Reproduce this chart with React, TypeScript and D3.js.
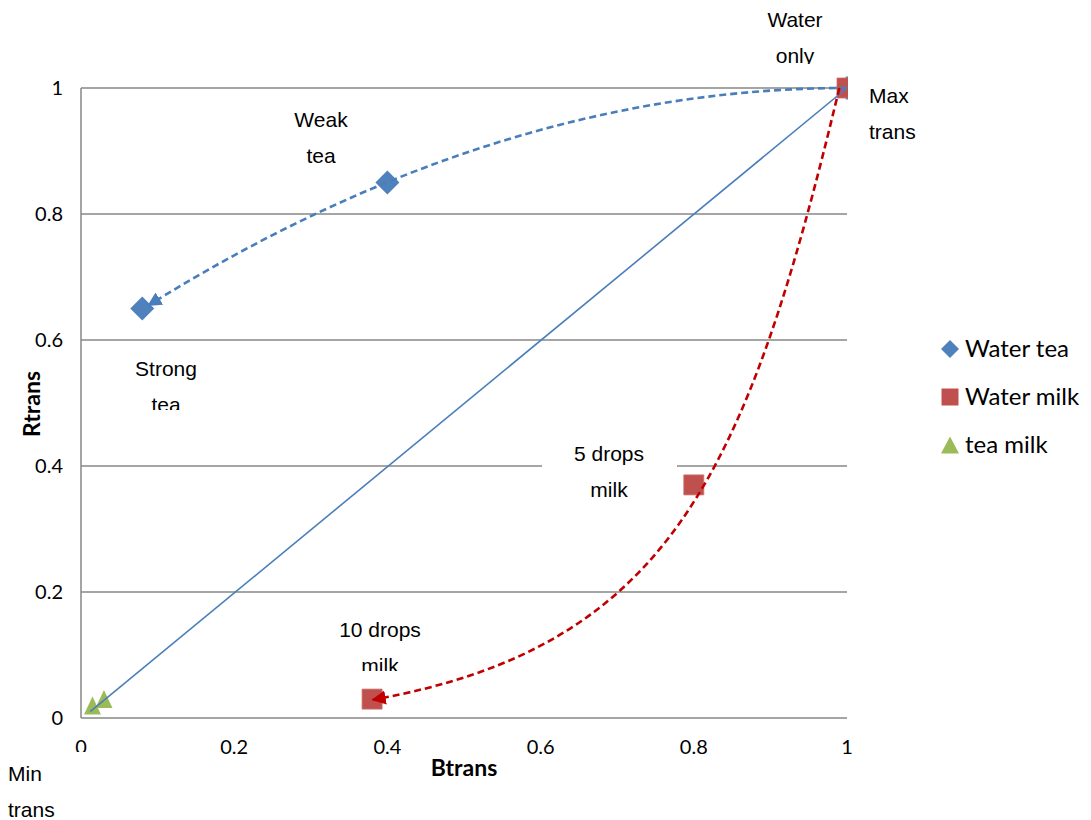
import React from "react";
import * as d3 from "d3";

// Measured transmission values (blue channel vs red channel)
const waterTeaB = [0.08, 0.4, 1];
const waterTeaR = [0.65, 0.85, 1];
const waterMilkB = [1, 0.8, 0.38];
const waterMilkR = [1, 0.37, 0.03];
const teaMilkB = [0.015, 0.03];
const teaMilkR = [0.02, 0.03];

const xTicks = [0, 0.2, 0.4, 0.6, 0.8, 1];
const yTicks = [0, 0.2, 0.4, 0.6, 0.8, 1];
const xTickLabels = ["0", "0.2", "0.4", "0.6", "0.8", "1"];
const yTickLabels = ["0", "0.2", "0.4", "0.6", "0.8", "1"];

// Guide line from max to min transmission
const diagonal: [number, number][] = [[1, 1], [0.012, 0.01]];
// Tea dilution path (quadratic: start, control, end)
const teaPath: [number, number][] = [[1, 1], [0.545, 1], [0.088, 0.655]];
// Milk dilution path (cubic: start, control 1, control 2, end)
const milkPath: [number, number][] = [[0.99, 1], [0.869, 0.385], [0.767, 0.113], [0.381, 0.029]];

const legendNames = ["Water tea", "Water milk", "tea milk"];

const BLUE = "#4f81bd";
const RED = "#c0504d";
const GREEN = "#9bbb59";

const W = 1091, H = 820;
const x = d3.scaleLinear().domain([0, 1]).range([81, 847]);
const y = d3.scaleLinear().domain([0, 1]).range([718, 88]);

const diamond = (cx: number, cy: number, r: number) =>
  `M${cx},${cy - r}L${cx + r},${cy}L${cx},${cy + r}L${cx - r},${cy}Z`;
const square = (cx: number, cy: number, s: number) =>
  `M${cx - s / 2},${cy - s / 2}h${s}v${s}h${-s}Z`;
const triangle = (cx: number, cy: number, w: number, h: number) =>
  `M${cx},${cy - h / 2}L${cx + w / 2},${cy + h / 2}L${cx - w / 2},${cy + h / 2}Z`;

type Note = { lines: string[]; box: [number, number, number, number]; cx?: number; left?: number; base: number };
const notes: Note[] = [
  { lines: ["Weak", "tea"], box: [280, 100, 85, 76], cx: 321, base: 127 },
  { lines: ["Water", "only"], box: [755, 0, 80, 64], cx: 795, base: 27 },
  { lines: ["Max", "trans"], box: [848, 74, 80, 76], left: 869, base: 103 },
  { lines: ["Strong", "tea"], box: [125, 345, 85, 65], cx: 166, base: 376 },
  { lines: ["5 drops", "milk"], box: [542, 432, 135, 76], cx: 609, base: 461 },
  { lines: ["10 drops", "milk"], box: [330, 608, 100, 63], cx: 380, base: 637 },
  { lines: ["Min", "trans"], box: [0, 752, 95, 68], left: 8, base: 781 },
];

export default function App() {
  const lineGen = d3.line<[number, number]>().x((d) => x(d[0])).y((d) => y(d[1]));

  const tp = d3.path();
  tp.moveTo(x(teaPath[0][0]), y(teaPath[0][1]));
  tp.quadraticCurveTo(x(teaPath[1][0]), y(teaPath[1][1]), x(teaPath[2][0]), y(teaPath[2][1]));

  const mp = d3.path();
  mp.moveTo(x(milkPath[0][0]), y(milkPath[0][1]));
  mp.bezierCurveTo(
    x(milkPath[1][0]), y(milkPath[1][1]),
    x(milkPath[2][0]), y(milkPath[2][1]),
    x(milkPath[3][0]), y(milkPath[3][1])
  );

  const tickFont = "Lato, 'Open Sans', sans-serif";
  const noteFont = "'Liberation Sans', Arial, sans-serif";

  return (
    <svg
      width={W}
      height={H}
      style={{ position: "absolute", left: 0, top: 0, background: "#fff" }}
    >
      <defs>
        <marker id="arrBlue" viewBox="0 0 10 10" refX="9" refY="5" markerWidth="5.5" markerHeight="5.5" orient="auto" markerUnits="strokeWidth">
          <path d="M0,0L10,5L0,10Z" fill="#4a7ebb" />
        </marker>
        <marker id="arrRed" viewBox="0 0 10 10" refX="9" refY="5" markerWidth="5.5" markerHeight="5.5" orient="auto" markerUnits="strokeWidth">
          <path d="M0,0L10,5L0,10Z" fill="#c00000" />
        </marker>
        {notes.map((n, i) => (
          <clipPath id={`nc${i}`} key={i}>
            <rect x={n.box[0]} y={n.box[1]} width={n.box[2]} height={n.box[3]} />
          </clipPath>
        ))}
      </defs>

      {/* gridlines */}
      {yTicks.filter((t) => t > 0).map((t) => (
        <line key={t} x1={x(0)} x2={x(1)} y1={y(t)} y2={y(t)} stroke="#878787" strokeWidth={1.5} />
      ))}
      {/* axes */}
      <line x1={x(0)} x2={x(0)} y1={y(0)} y2={y(1)} stroke="#878787" strokeWidth={1.5} />
      <line x1={x(0)} x2={x(1)} y1={y(0)} y2={y(0)} stroke="#878787" strokeWidth={1.5} />

      {/* tick labels */}
      {yTicks.map((t, i) => (
        <text key={t} x={63} y={y(t)} dy="0.36em" textAnchor="end" fontFamily={tickFont} fontSize={20} fill="#000">
          {yTickLabels[i]}
        </text>
      ))}
      {xTicks.map((t, i) => (
        <text key={t} x={x(t)} y={754} textAnchor="middle" fontFamily={tickFont} fontSize={20} fill="#000">
          {xTickLabels[i]}
        </text>
      ))}

      {/* axis titles */}
      <text x={464} y={776} textAnchor="middle" fontFamily={tickFont} fontWeight="bold" fontSize={23}>
        Btrans
      </text>
      <text transform="translate(40,404) rotate(-90)" textAnchor="middle" fontFamily={tickFont} fontWeight="bold" fontSize={23}>
        Rtrans
      </text>

      {/* markers */}
      {waterTeaB.map((b, i) => (
        <path key={`t${i}`} d={diamond(x(b), y(waterTeaR[i]), 12)} fill={BLUE} />
      ))}
      {waterMilkB.map((b, i) => (
        <path key={`m${i}`} d={square(x(b), y(waterMilkR[i]), 20)} fill={RED} stroke="#c9706d" strokeWidth={0.8} />
      ))}
      {teaMilkB.map((b, i) => (
        <path key={`g${i}`} d={triangle(x(b), y(teaMilkR[i]), 17, 18)} fill={GREEN} />
      ))}

      {/* guide lines */}
      <path d={lineGen(diagonal) || ""} fill="none" stroke="#4a7ebb" strokeWidth={1.6} />
      <path d={tp.toString()} fill="none" stroke="#4a7ebb" strokeWidth={2.6} strokeDasharray="7,4" markerEnd="url(#arrBlue)" />
      <path d={mp.toString()} fill="none" stroke="#c00000" strokeWidth={2.6} strokeDasharray="7,4" markerEnd="url(#arrRed)" />

      {/* annotation boxes */}
      {notes.map((n, i) => (
        <g key={i}>
          <rect x={n.box[0]} y={n.box[1]} width={n.box[2]} height={n.box[3]} fill="#fff" />
          <g clipPath={`url(#nc${i})`}>
            {n.lines.map((l, j) => (
              <text
                key={j}
                x={n.cx !== undefined ? n.cx : n.left}
                y={n.base + j * 36}
                textAnchor={n.cx !== undefined ? "middle" : "start"}
                fontFamily={noteFont}
                fontSize={21}
                fill="#000"
              >
                {l}
              </text>
            ))}
          </g>
        </g>
      ))}

      {/* legend */}
      <g fontFamily={tickFont} fontSize={24}>
        <path d={diamond(950, 349, 9)} fill={BLUE} />
        <path d={square(950, 397, 17)} fill={RED} />
        <path d={triangle(950, 445, 18, 17)} fill={GREEN} />
        {legendNames.map((n, i) => (
          <text key={n} x={965} y={349 + i * 48} dy="0.35em">
            {n}
          </text>
        ))}
      </g>
    </svg>
  );
}
